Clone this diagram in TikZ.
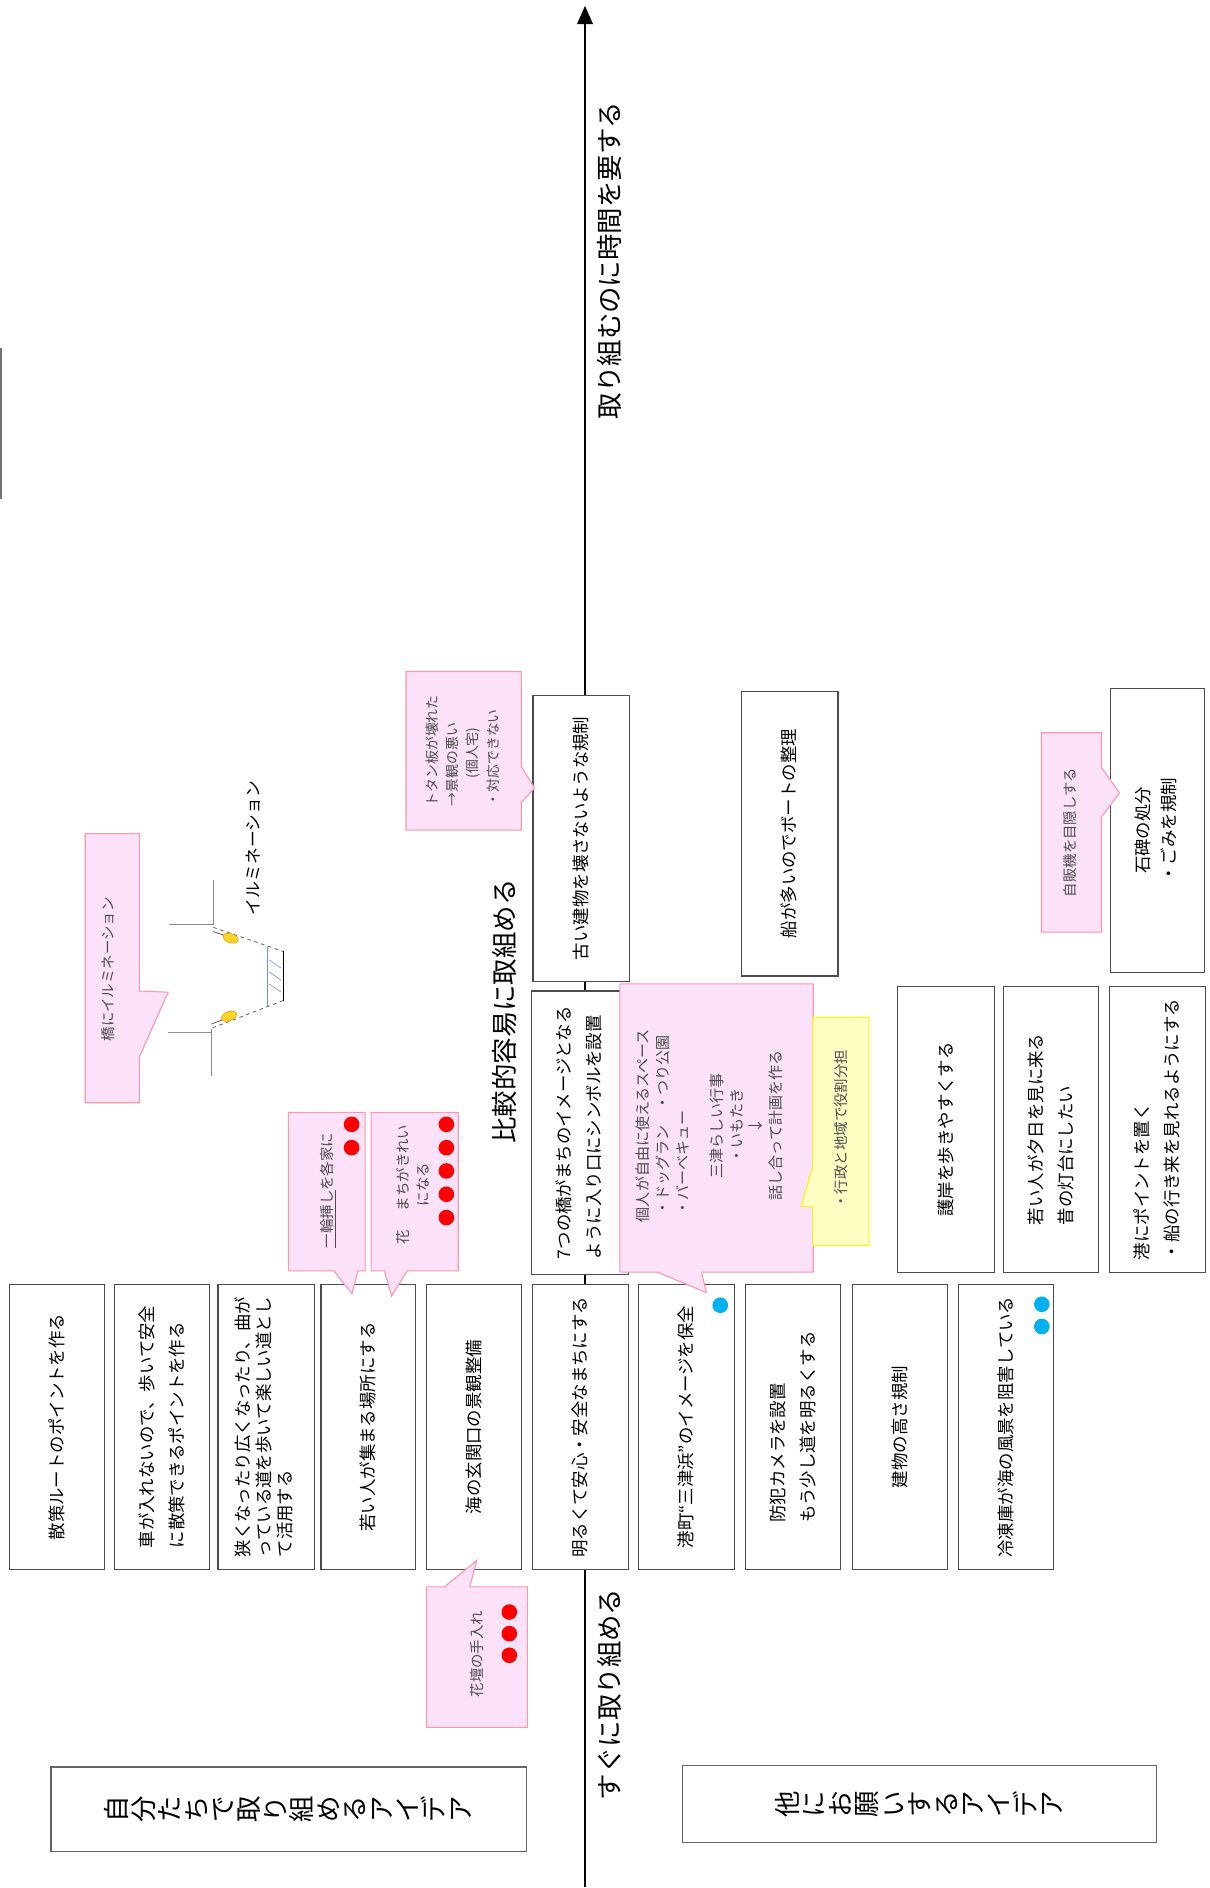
\documentclass[tikz,border=0pt]{standalone}
\usepackage{fontspec}
\setmainfont{Noto Sans CJK JP}
\usepackage{graphicx}
\definecolor{memofill}{RGB}{252,226,249}
\definecolor{memoline}{RGB}{255,150,170}
\definecolor{notefill}{RGB}{255,255,196}
\definecolor{noteline}{RGB}{250,245,20}
\definecolor{dotred}{RGB}{255,0,0}
\definecolor{dotblue}{RGB}{0,176,240}
\definecolor{hatch}{RGB}{100,150,210}
\definecolor{lampfill}{RGB}{255,214,40}
\definecolor{lampline}{RGB}{230,160,0}
\newcommand{\sidel}[1]{\rotatebox{90}{\begin{tabular}{@{}l@{}}#1\end{tabular}}}
\newcommand{\sidec}[1]{\rotatebox{90}{\begin{tabular}{@{}c@{}}#1\end{tabular}}}
\newcommand{\upch}[1]{\rotatebox{90}{\rule[-.12em]{0pt}{1em}#1}}
\begin{document}
\begin{tikzpicture}[x=1pt,y=-1pt,
		idea/.style={draw=black!70,fill=white,line width=0.9pt,inner sep=0pt,font=\fontsize{14.5}{25}\selectfont},
		title/.style={draw=black!60,fill=white,line width=0.9pt,inner sep=0pt,font=\fontsize{22}{26}\selectfont},
		memo/.style={draw=memoline,fill=memofill,line width=0.9pt},
		note/.style={draw=noteline,fill=notefill,line width=0.9pt},
		memotext/.style={inner sep=0pt,text=black!70,font=\fontsize{12}{17}\selectfont},
		axislabel/.style={inner sep=0pt,font=\fontsize{22}{26}\selectfont}]
	\fill [white] (0,0) rectangle (1007,1571);
	\draw [black!55, line width=2pt] (1,290) -- (1,415);
	\coordinate (axbot) at (487,1571);
	\coordinate (axtop) at (487,19);
	\draw [black, line width=1.5pt] (axbot) -- (axtop);
	\fill [black] (487,5) -- (480.3,20) -- (493.7,20) -- cycle;
	\node [axislabel] (nagai) at (507,217) {\rotatebox{90}{取り組むのに時間を要する}};
	\node [axislabel] (sugu) at (507,1410.5) {\rotatebox{90}{すぐに取り組める}};
	\node [axislabel] (hikaku) at (420,842) {\rotatebox{90}{比較的容易に取組める}};
	\node [idea, minimum width=79pt, minimum height=237.5pt] (sansaku) at (47.7,1188) {\sidel{散策ルートのポイントを作る}};
	\node [idea, minimum width=79pt, minimum height=237.5pt] (kuruma) at (134.9,1188) {\sidel{車が入れないので、歩いて安全\\に散策できるポイントを作る}};
	\node [idea, minimum width=80pt, minimum height=237.5pt, font=\fontsize{14.5}{17}\selectfont] (michi) at (221.5,1188) {\sidel{狭くなったり広くなったり、曲が\\っている道を歩いて楽しい道とし\\て活用する}};
	\node [idea, minimum width=79pt, minimum height=237.5pt] (wakamono) at (306.7,1188) {\sidel{若い人が集まる場所にする}};
	\node [idea, minimum width=79pt, minimum height=237.5pt] (genkan) at (394.7,1188) {\sidel{海の玄関口の景観整備}};
	\node [idea, minimum width=80pt, minimum height=237.5pt] (akarui) at (483,1188) {\sidel{明るくて安心・安全なまちにする}};
	\node [idea, minimum width=80pt, minimum height=237.5pt] (minato) at (571.8,1188) {\sidel{港町“三津浜”のイメージを保全}};
	\node [idea, minimum width=79pt, minimum height=237.5pt] (bohan) at (660.3,1188) {\sidel{防犯カメラを設置\\もう少し道を明るくする}};
	\node [idea, minimum width=79pt, minimum height=237.5pt] (takasa) at (749.3,1188) {\sidel{建物の高さ規制}};
	\node [idea, minimum width=79.6pt, minimum height=237.5pt] (reitoko) at (837.5,1188) {\sidel{冷凍庫が海の風景を阻害している}};
	\node [idea, minimum width=80.5pt, minimum height=236pt] (hashi) at (482.6,943) {\sidel{7つの橋がまちのイメージとなる\\ように入り口にシンボルを設置}};
	\node [idea, minimum width=80.4pt, minimum height=238.5pt] (gogan) at (787.6,940.2) {\sidel{護岸を歩きやすくする}};
	\node [idea, minimum width=79.3pt, minimum height=238.5pt] (yuhi) at (875,940.2) {\sidel{若い人が夕日を見に来る\\昔の灯台にしたい}};
	\node [idea, minimum width=79.4pt, minimum height=238.5pt] (point) at (963.7,940.2) {\sidel{港にポイントを置く\\・船の行き来を見れるようにする}};
	\node [idea, minimum width=80pt, minimum height=237.7pt] (furui) at (483.7,697.9) {\sidel{古い建物を壊さないような規制}};
	\node [idea, minimum width=80pt, minimum height=237pt] (fune) at (657.6,694) {\sidel{船が多いのでボートの整理}};
	\node [idea, minimum width=78.2pt, minimum height=237pt, font=\fontsize{14.5}{22}\selectfont] (sekihi) at (963.5,691.3) {\sidec{石碑の処分\\・ごみを規制}};
	\node [title, minimum width=395.5pt, minimum height=70pt] (jibun) at (240.2,1506) {\upch{自}\upch{分}\upch{た}\upch{ち}\upch{で}\upch{取}\upch{り}\upch{組}\upch{め}\upch{る}\upch{ア}\upch{イ}\upch{デ}\upch{ア}};
	\node [title, minimum width=395pt, minimum height=64pt] (tanin) at (765.5,1502) {\upch{他}\upch{に}\upch{お}\upch{願}\upch{い}\upch{す}\upch{る}\upch{ア}\upch{イ}\upch{デ}\upch{ア}};
	\draw [black!45, line width=0.9pt] (177.5,733) -- (177.5,770);
	\draw [black!45, line width=0.9pt] (141,769.5) -- (177.5,769.5);
	\draw [black!45, line width=0.9pt] (176,857) -- (176,896);
	\draw [black!45, line width=0.9pt] (140,859.5) -- (176,859.5);
	\draw [black!60, dashed, line width=0.7pt] (177.5,772) -- (235.7,792);
	\draw [black!60, line width=0.7pt] (177.5,775.5) -- (190,779.8);
	\draw [black!60, dashed, line width=0.7pt] (235.7,833) -- (176,856);
	\draw [black!60, line width=0.7pt] (176,852.5) -- (188,848);
	\draw [black, line width=0.9pt] (235.7,792) -- (235.7,833);
	\draw [hatch, line width=0.9pt] (223,788) -- (223,838);
	\draw [hatch, line width=0.5pt] (224,799) -- (234,806);
	\draw [hatch, line width=0.5pt] (224,809) -- (234,816);
	\draw [hatch, line width=0.5pt] (224,819) -- (234,826);
	\filldraw [fill=lampfill, draw=lampline, line width=0.5pt, rotate around={-19:(192,781)}] (192,781) ellipse [x radius=6.5pt, y radius=3.8pt];
	\filldraw [fill=lampfill, draw=lampline, line width=0.5pt, rotate around={21:(190.6,846)}] (190.6,846) ellipse [x radius=6.5pt, y radius=3.8pt];
	\node [inner sep=0pt, font=\fontsize{14}{16}\selectfont] (illtext) at (210.7,706) {\rotatebox{90}{イルミネーション}};
	\draw [memo] (71,694) -- (116,694) -- (116,825) -- (140,826) -- (116,880) -- (116,918) -- (71,918) -- cycle;
	\node [memotext] (illumi) at (91.5,807) {\sidel{橋にイルミネーション}};
	\draw [memo] (338,559) -- (434,559) -- (434,638) -- (445,656) -- (434,668) -- (434,691) -- (338,691) -- cycle;
	\node [memotext, font=\fontsize{11.5}{17}\selectfont] (totan) at (386,625) {\sidel{トタン板が壊れた\\→景観の悪い\\\quad\quad(個人宅)\\・対応できない}};
	\draw [memo] (867,610) -- (917,610) -- (917,639) -- (932,660) -- (917,680) -- (917,776) -- (867,776) -- cycle;
	\node [memotext] (jihanki) at (891.6,693) {\sidel{自販機を目隠しする}};
	\draw [memo] (240,926) -- (304,926) -- (304,1058) -- (298,1058) -- (293,1077) -- (278,1058) -- (240,1058) -- cycle;
	\node [memotext] (ichirin) at (273,991) {\sidel{\underline{一輪挿し}を各家に}};
	\fill [dotred] (292.7,936) circle [radius=6.5pt];
	\fill [dotred] (292.7,955.4) circle [radius=6.5pt];
	\draw [memo] (309,926) -- (381.5,926) -- (381.5,1058) -- (339,1058) -- (326,1079) -- (320,1058) -- (309,1058) -- cycle;
	\node [memotext, font=\fontsize{12}{16.5}\selectfont] (hana) at (345,986) {\sidec{花\hspace{1.3em}まちがきれい\\になる}};
	\fill [dotred] (371.6,936) circle [radius=6.5pt];
	\fill [dotred] (371.6,955.4) circle [radius=6.5pt];
	\fill [dotred] (371.6,974.8) circle [radius=6.5pt];
	\fill [dotred] (371.6,994.2) circle [radius=6.5pt];
	\fill [dotred] (371.6,1013.6) circle [radius=6.5pt];
	\draw [memo] (355,1321) -- (370,1321) -- (397,1299) -- (391,1321) -- (439,1321) -- (439,1438) -- (355,1438) -- cycle;
	\node [memotext] (kadan) at (398,1377) {\sidel{花壇の手入れ}};
	\fill [dotred] (424,1342) circle [radius=6.5pt];
	\fill [dotred] (424,1360) circle [radius=6.5pt];
	\fill [dotred] (424,1378) circle [radius=6.5pt];
	\draw [memo] (516,819) -- (677,819) -- (677,1059) -- (584,1059) -- (588,1076) -- (547,1059) -- (516,1059) -- cycle;
	\node [memotext, font=\fontsize{12.5}{16.5}\selectfont] (jiyu) at (592,937) {\sidec{個人が自由に使えるスペース\\\rlap{・ドッグラン　・つり公園}\phantom{・ドッグラン　・つり公園}\\\rlap{・バーベキュー}\phantom{・ドッグラン　・つり公園}\\[12pt]三津らしい行事\\・いもたき\\↓\\話し合って計画を作る}};
	\draw [note] (676.7,847) -- (723.3,847) -- (723.3,1037) -- (676.7,1037) -- (676.7,1005) -- (667,1004) -- (676.7,971) -- cycle;
	\node [memotext] (yakuwari) at (701.6,940) {\sidel{・行政と地域で役割分担}};
	\fill [dotblue] (599.6,1086.6) circle [radius=6.5pt];
	\fill [dotblue] (867.3,1085.8) circle [radius=6.5pt];
	\fill [dotblue] (867.3,1104.3) circle [radius=6.5pt];
\end{tikzpicture}
\end{document}
